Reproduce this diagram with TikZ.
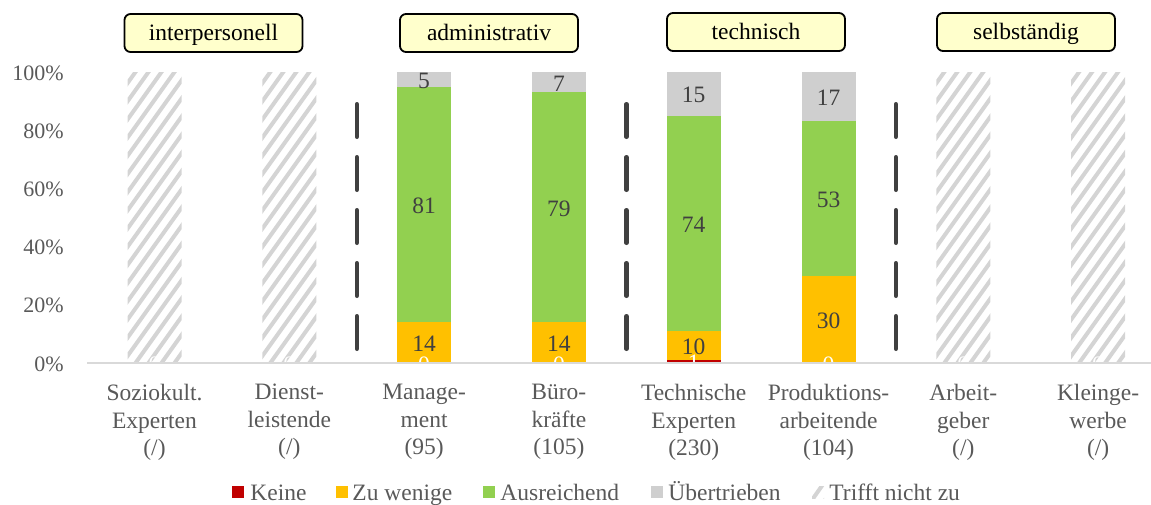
\documentclass[tikz,border=0pt]{standalone}
\usepackage{fontspec}
\setmainfont{Liberation Serif}
\definecolor{keinered}{HTML}{C00000}
\definecolor{zuwenig}{HTML}{FFC000}
\definecolor{ausreichend}{HTML}{92D050}
\definecolor{uebertrieben}{HTML}{CFCFCF}
\definecolor{hatchgray}{HTML}{D4D4D4}
\definecolor{boxyellow}{HTML}{FFFFCC}
\definecolor{axisgray}{HTML}{595959}
\definecolor{valgray}{HTML}{404040}
\definecolor{divgray}{HTML}{404040}
\definecolor{axisline}{HTML}{D9D9D9}

\begin{document}
\begin{tikzpicture}[x=0.5pt,y=-0.5pt]
    \tikzstyle{every node}=[inner sep=0pt, font=\fontsize{11.75}{13.75}\selectfont]
    \tikzstyle{ticklabel}=[anchor=east, text=axisgray, font=\fontsize{11}{13}\selectfont]
    \tikzstyle{catlabel}=[anchor=north, align=center, text=axisgray]
    \tikzstyle{vallabel}=[text=valgray]
    \tikzstyle{nulllabel}=[text=white]
    \tikzstyle{groupbox}=[draw=black, line width=0.9pt, fill=boxyellow, rounded corners=3pt, minimum width=89pt, minimum height=19pt, text height=0.9em, text depth=0.15em]
    \tikzstyle{divider}=[draw=divgray, line width=2.25pt, line cap=round, dash pattern=on 16.25pt off 10.25pt]
    \tikzstyle{stripe}=[draw=hatchgray, line width=2pt]
    \tikzstyle{legsq}=[minimum size=6pt]
    \tikzstyle{legtext}=[anchor=base west, text=axisgray]
    \useasboundingbox (0,0) rectangle (1151,504);
    % y axis
    \foreach \p in {0,20,...,100}
        \node[ticklabel] (tick\p) at (64,{364-2.91*\p}) {\p\%};
    % bars "trifft nicht zu"
    \foreach \x [count=\i] in {154.5,289.3,963.3,1098.1} {
        \begin{scope}
            \clip (\x-27,72) rectangle (\x+27,363);
            \foreach \s in {-245,-232,...,35}
                \draw[stripe] (\x+\s,370) -- ++(218,-305);
        \end{scope}
        \node[nulllabel] (nv\i) at (\x,364.5) {0};
    }
    % bars with values
    \foreach \x/\k/\z/\a/\u [count=\i] in {424.1/0/14/81/5, 558.9/0/14/79/7, 693.7/1/10/74/15, 828.5/0/30/53/17} {
        \pgfmathsetmacro\yk{363-2.91*\k}
        \pgfmathsetmacro\yz{\yk-2.91*\z}
        \pgfmathsetmacro\ya{\yz-2.91*\a}
        \fill[keinered] (\x-27,363) rectangle (\x+27,\yk);
        \fill[zuwenig] (\x-27,\yk) rectangle (\x+27,\yz);
        \fill[ausreichend] (\x-27,\yz) rectangle (\x+27,\ya);
        \fill[uebertrieben] (\x-27,\ya) rectangle (\x+27,72);
        \node[nulllabel] (kv\i) at (\x,{(363+\yk)/2+1.5}) {\k};
        \node[vallabel] (zv\i) at (\x,{(\yk+\yz)/2+1.5}) {\z};
        \node[vallabel] (av\i) at (\x,{(\yz+\ya)/2+1.5}) {\a};
        \node[vallabel] (uv\i) at (\x,{(\ya+72)/2+1.5}) {\u};
    }
    \draw[axisline, line width=0.75pt] (87,363) -- (1151,363);
    % dividers
    \foreach \x in {356.9,626.5,895.9}
        \draw[divider] (\x,104.25) -- (\x,348.75);
    % categories
    \foreach \x/\lbl [count=\i] in {154.5/{Soziokult.\\Experten\\(/)}, 289.3/{Dienst-\\leistende\\(/)},
            424.1/{Manage-\\ment\\(95)}, 558.9/{Büro-\\kräfte\\(105)}, 693.7/{Technische\\Experten\\(230)},
            828.5/{Produktions-\\arbeitende\\(104)}, 963.3/{Arbeit-\\geber\\(/)}, 1098.1/{Kleinge-\\werbe\\(/)}}
        \node[catlabel] (cat\i) at (\x,384) {\lbl};
    % groups
    \node[groupbox] (interp) at (213.5,33) {interpersonell};
    \node[groupbox] (admin) at (489,33) {administrativ};
    \node[groupbox] (techn) at (756,32) {technisch};
    \node[groupbox] (selbst) at (1026,32) {selbständig};
    % legend
    \node[legsq, fill=keinered] (lk) at (238,492) {};
    \node[legtext] (lkt) at (250,500) {Keine};
    \node[legsq, fill=zuwenig] (lz) at (342,492) {};
    \node[legtext] (lzt) at (352,500) {Zu wenige};
    \node[legsq, fill=ausreichend] (la) at (489,492) {};
    \node[legtext] (lat) at (500,500) {Ausreichend};
    \node[legsq, fill=uebertrieben] (lu) at (657,492) {};
    \node[legtext] (lut) at (668,500) {Übertrieben};
    \begin{scope}
        \clip (812,486) rectangle (824,498);
        \foreach \s in {-13,0,13}
            \draw[stripe] (812+\s,500) -- ++(14,-20);
    \end{scope}
    \node[legtext] (ltt) at (829,500) {Trifft nicht zu};
\end{tikzpicture}
\end{document}
